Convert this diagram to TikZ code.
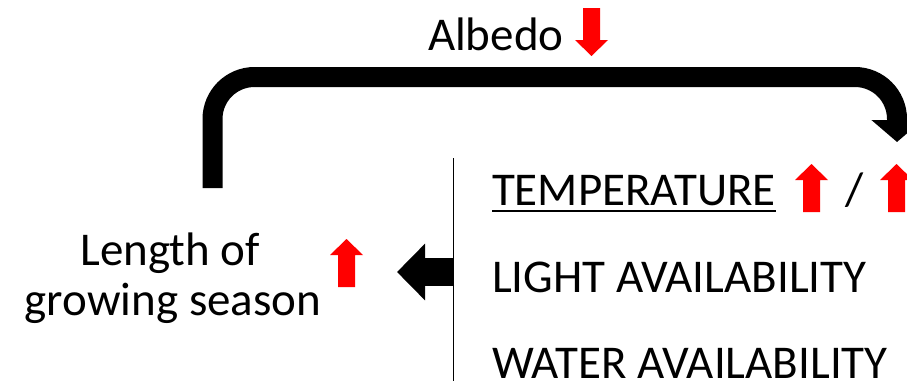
\documentclass[tikz,border=0pt]{standalone}
\usepackage{fontspec}
\setmainfont{Carlito}
\usetikzlibrary{arrows.meta}

\begin{document}
\begin{tikzpicture}[x=1pt,y=-1pt,
  label/.style={inner sep=0pt,outer sep=0pt,font=\fontsize{47}{50}\selectfont},
  bigflow/.style={line width=20pt,-{Triangle[width=50pt,length=22pt]}},
  pushflow/.style={line width=28pt,-{Triangle[width=55pt,length=28pt]}},
  divider/.style={line width=1.8pt},
  % solid red block arrow, origin at the middle of its tail
  blockup/.pic={\fill[red] (-8.5,0) -- (-8.5,-32) -- (-16.5,-32) -- (0,-48)
                 -- (16.5,-32) -- (8.5,-32) -- (8.5,0) -- cycle;}
]
\useasboundingbox (0,0) rectangle (907,381);

% texts
\node[label,anchor=base west] (albedo) at (428,50) {Albedo};
\node[label,anchor=base west] (temp)   at (492,205) {TEMPERATURE};
\node[label,anchor=base]      (slash)  at (855,205) {/};
\node[label,anchor=base west] (light)  at (492,292) {LIGHT AVAILABILITY};
\node[label,anchor=base west] (water)  at (492,378) {WATER AVAILABILITY};
\node[label,anchor=base]      (len)    at (170,265) {Length of};
\node[label,anchor=base]      (grow)   at (173,315) {growing season};

% underline of the temperature heading
\draw[line width=2.2pt] ([yshift=-6pt]temp.base west) -- ([yshift=-6pt]temp.base east);

% red trend arrows
\pic[rotate=180] at (591.5,8) {blockup};
\pic at (346.5,287) {blockup};
\pic at (811.5,212) {blockup};
\pic at (896.5,212) {blockup};

% divider beside the list of drivers
\coordinate (divtop) at (453.5,158);
\coordinate (divbot) at (453.5,381);
\draw[divider] (divtop) -- (divbot);

% drivers push on the growing season
\coordinate (pushstart) at (454,272);
\coordinate (pushtip)   at (397,272);
\draw[pushflow] (pushstart) -- (pushtip);

% feedback loop through albedo back to temperature
\coordinate (loopstart) at (212.5,188);
\coordinate (looptip)   at (897,142);
\draw[bigflow,rounded corners=42pt] (loopstart) -- (212.5,77) -- (897,77) -- (looptip);
\end{tikzpicture}
\end{document}
